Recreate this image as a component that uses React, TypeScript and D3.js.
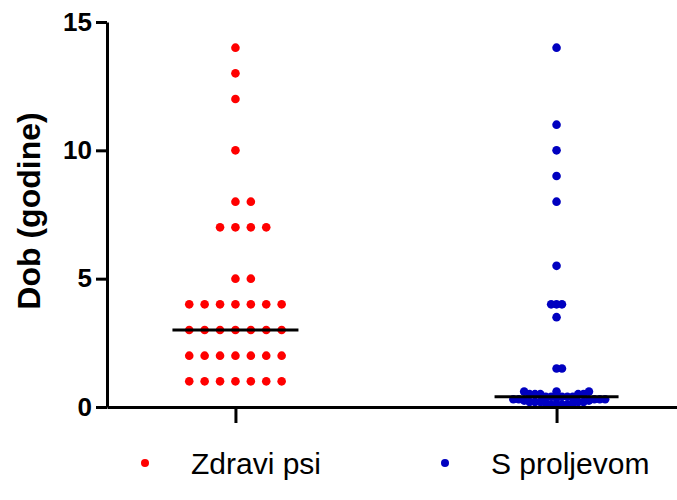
import React, { useEffect, useRef } from "react";
import * as d3 from "d3";

const categories = ["Zdravi psi", "S proljevom"];
const colors = ["#ff0000", "#0000c0"];

// Age in years, healthy dogs
const healthyAges = [
  14, 13, 12, 10, 8, 8, 7, 7, 7, 7, 5, 5,
  4, 4, 4, 4, 4, 4, 4,
  3, 3, 3, 3, 3, 3, 3,
  2, 2, 2, 2, 2, 2, 2,
  1, 1, 1, 1, 1, 1, 1,
];

// Age in years, dogs with diarrhoea
const diarrhoeaAges = [
  14, 11, 10, 9, 8, 5.5, 4, 4, 4, 3.5, 1.5, 1.5,
  0.6, 0.6, 0.6, 0.5, 0.5, 0.5, 0.5, 0.5, 0.4, 0.4, 0.4, 0.4, 0.4, 0.35,
  0.3, 0.3, 0.3, 0.3, 0.3, 0.25, 0.25, 0.2, 0.2, 0.2, 0.2, 0.2, 0.15, 0.15,
  0.1, 0.1, 0.1, 0.1,
];

const yTicks = [0, 5, 10, 15];

const WIDTH = 677;
const HEIGHT = 500;
const FONT = "'Liberation Sans', Arial, sans-serif";

// simple beeswarm: each point takes the nearest free column slot
function swarm(values: number[], y: (v: number) => number, step: number, minDist: number) {
  const placed: { v: number; dx: number; py: number }[] = [];
  const sorted = [...values].sort((a, b) => a - b);
  for (const v of sorted) {
    const py = y(v);
    for (let k = 0; k < 80; k++) {
      const col = k === 0 ? 0 : (k % 2 === 1 ? (k + 1) / 2 : -k / 2);
      const dx = col * step;
      const clash = placed.some((p) => Math.hypot(p.dx - dx, p.py - py) < minDist - 0.01);
      if (!clash) {
        placed.push({ v, dx, py });
        break;
      }
    }
  }
  return placed;
}

export default function App() {
  const svgRef = useRef<SVGSVGElement>(null);

  useEffect(() => {
    if (!svgRef.current) return;
    const svg = d3.select(svgRef.current);
    svg.selectAll("*").remove();

    const y = d3.scaleLinear().domain([0, 15]).range([407, 22]);
    const x = d3.scalePoint<string>().domain(categories).range([107, 685]).padding(0.4);

    const groups = [
      { name: categories[0], values: healthyAges, color: colors[0], step: 15.4, dist: 15, half: 63 },
      { name: categories[1], values: diarrhoeaAges, color: colors[1], step: 5.4, dist: 5.4, half: 62 },
    ];

    groups.forEach((g) => {
      const cx = x(g.name) || 0;
      const pts = swarm(g.values, y, g.step, g.dist);
      svg.append("g")
        .selectAll("circle")
        .data(pts)
        .enter()
        .append("circle")
        .attr("cx", (d) => cx + d.dx)
        .attr("cy", (d) => d.py)
        .attr("r", 4.3)
        .attr("fill", g.color);

      const med = d3.median(g.values) || 0;
      svg.append("line")
        .attr("x1", cx - g.half)
        .attr("x2", cx + g.half)
        .attr("y1", y(med))
        .attr("y2", y(med))
        .attr("stroke", "#000")
        .attr("stroke-width", 3);
    });

    // Y axis
    const yAxis = svg.append("g")
      .attr("transform", "translate(107,0)")
      .call(d3.axisLeft(y).tickValues(yTicks).tickSize(11).tickSizeOuter(0).tickPadding(4));
    yAxis.select(".domain").attr("stroke-width", 3).attr("stroke", "#000");
    yAxis.selectAll(".tick line").attr("stroke-width", 3).attr("stroke", "#000");
    yAxis.selectAll(".tick text")
      .attr("font-family", FONT)
      .attr("font-weight", "bold")
      .attr("font-size", "26px")
      .attr("fill", "#000");

    // X axis
    const xAxis = svg.append("g")
      .attr("transform", "translate(0,407)")
      .call(d3.axisBottom(x).tickSize(16).tickSizeOuter(0).tickFormat(() => ""));
    xAxis.select(".domain").attr("stroke-width", 3).attr("stroke", "#000");
    xAxis.selectAll(".tick line").attr("stroke-width", 3).attr("stroke", "#000");

    // Y axis label
    svg.append("text")
      .attr("transform", "rotate(-90)")
      .attr("x", -211)
      .attr("y", 40)
      .attr("text-anchor", "middle")
      .attr("font-family", FONT)
      .attr("font-weight", "bold")
      .attr("font-size", "32px")
      .attr("fill", "#000")
      .text("Dob (godine)");

    // Legend
    const legend = svg.append("g");
    const legendX = [145, 445];
    categories.forEach((c, i) => {
      legend.append("circle")
        .attr("cx", legendX[i])
        .attr("cy", 463)
        .attr("r", 4)
        .attr("fill", colors[i]);
      legend.append("text")
        .attr("x", legendX[i] + 46)
        .attr("y", 474)
        .attr("font-family", FONT)
        .attr("font-size", "30px")
        .attr("fill", "#000")
        .text(c);
    });
  }, []);

  return (
    <svg
      ref={svgRef}
      width={WIDTH}
      height={HEIGHT}
      style={{ position: "absolute", left: 0, top: 0, background: "#fff" }}
    />
  );
}
